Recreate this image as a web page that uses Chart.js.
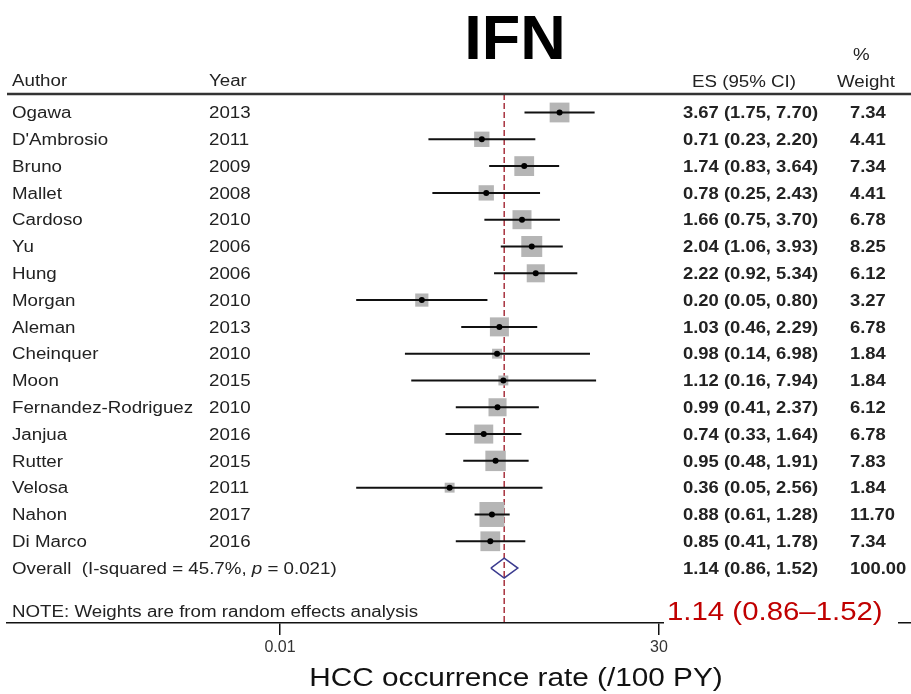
<!DOCTYPE html>
<html>
<head>
<meta charset="utf-8">
<script src="https://cdn.jsdelivr.net/npm/chart.js@4.4.0/dist/chart.umd.min.js"></script>
<style>
  body { margin: 0; background: #fff; }
  canvas { display: block; }
</style>
</head>
<body>
<canvas id="forest" width="911" height="694"></canvas>
<script>
const authors = ["Ogawa", "D'Ambrosio", "Bruno", "Mallet", "Cardoso", "Yu", "Hung", "Morgan", "Aleman",
    "Cheinquer", "Moon", "Fernandez-Rodriguez", "Janjua", "Rutter", "Velosa", "Nahon", "Di Marco"];
const years = [2013, 2011, 2009, 2008, 2010, 2006, 2006, 2010, 2013, 2010, 2015, 2010, 2016, 2015, 2011, 2017, 2016];
const estimates = [3.67, 0.71, 1.74, 0.78, 1.66, 2.04, 2.22, 0.20, 1.03, 0.98, 1.12, 0.99, 0.74, 0.95, 0.36, 0.88, 0.85];
const lowerCI = [1.75, 0.23, 0.83, 0.25, 0.75, 1.06, 0.92, 0.05, 0.46, 0.14, 0.16, 0.41, 0.33, 0.48, 0.05, 0.61, 0.41];
const upperCI = [7.70, 2.20, 3.64, 2.43, 3.70, 3.93, 5.34, 0.80, 2.29, 6.98, 7.94, 2.37, 1.64, 1.91, 2.56, 1.28, 1.78];
const weights = [7.34, 4.41, 7.34, 4.41, 6.78, 8.25, 6.12, 3.27, 6.78, 1.84, 1.84, 6.12, 6.78, 7.83, 1.84, 11.70, 7.34];
const overall = [1.14, 0.86, 1.52];   // estimate, lower, upper
const overallWeight = 100.00;
const iSquared = 45.7;
const pValue = "0.021";
const axisTicks = [0.01, 30];

// visible range of the axes
const xMin = 3.13e-5, xMax = 6150;
const yMin = -0.69, yMax = 19.05;
const overallRow = authors.length;

const FONT = "'Liberation Sans', Arial, sans-serif";
const TXT = "#222";
const SX = 1.17;   // source figure text is horizontally stretched

Chart.defaults.font.family = FONT;

function txt(ctx, s, x, y, opt = {}) {
    const sx = opt.sx ?? SX;
    ctx.save();
    ctx.font = opt.font || `16px ${FONT}`;
    ctx.fillStyle = opt.color || TXT;
    ctx.textBaseline = "alphabetic";
    ctx.textAlign = "left";
    const w = ctx.measureText(s).width * sx;
    let x0 = x;
    if (opt.align === "center") x0 = x - w / 2;
    if (opt.align === "right") x0 = x - w;
    ctx.translate(x0, y);
    ctx.scale(sx, 1);
    ctx.fillText(s, 0, 0);
    ctx.restore();
    return x0 + w;
}

const ciLines = authors.map((a, i) => ({
    data: [{x: lowerCI[i], y: i}, {x: upperCI[i], y: i}],
    showLine: true,
    borderColor: "#111",
    borderWidth: 2,
    pointRadius: 0
}));

const boxH = 0.37;   // half height of the pooled diamond in rows
const datasets = [
    {
        data: estimates.map((v, i) => ({x: v, y: i})),
        pointStyle: "circle",
        pointRadius: 3,
        backgroundColor: "#000",
        borderWidth: 0
    },
    ...ciLines,
    {
        data: estimates.map((v, i) => ({x: v, y: i})),
        pointStyle: "rect",
        pointRadius: weights.map(w => Math.sqrt(w) * 7.3 / Math.SQRT2),
        backgroundColor: "#b5b5b5",
        borderWidth: 0
    },
    {
        data: [
            {x: overall[1], y: overallRow},
            {x: overall[0], y: overallRow - boxH},
            {x: overall[2], y: overallRow},
            {x: overall[0], y: overallRow + boxH},
            {x: overall[1], y: overallRow}
        ],
        showLine: true,
        fill: false,
        borderColor: "#3b3b8f",
        borderWidth: 1.5,
        pointRadius: 0
    },
    {
        data: [{x: overall[0], y: yMin}, {x: overall[0], y: yMax}],
        showLine: true,
        borderColor: "#a8323e",
        borderWidth: 1.5,
        borderDash: [6, 3],
        pointRadius: 0
    }
];

const tablePlugin = {
    id: "forestTable",
    afterDraw(chart) {
        const ctx = chart.ctx;
        const ys = chart.scales.y;
        const area = chart.chartArea;
        const bold = `bold 16px ${FONT}`;

        // header rule
        ctx.save();
        ctx.strokeStyle = "#333";
        ctx.lineWidth = 2.5;
        ctx.beginPath();
        ctx.moveTo(area.left, area.top);
        ctx.lineTo(area.right, area.top);
        ctx.stroke();
        ctx.restore();

        // titles
        txt(ctx, "IFN", 515, 59, {font: `bold 63px ${FONT}`, color: "#000", sx: 1, align: "center"});
        txt(ctx, "HCC occurrence rate (/100 PY)", 516, 686, {font: `25px ${FONT}`, color: "#111", sx: 1.19, align: "center"});

        // column headers
        const hy = area.top - 8;
        txt(ctx, "Author", 12, hy);
        txt(ctx, "Year", 209, hy);
        txt(ctx, "ES (95% CI)", 692, hy + 1);
        txt(ctx, "%", 853, hy - 26);
        txt(ctx, "Weight", 837, hy + 1);

        const fmt = (e, l, u) => `${e.toFixed(2)} (${l.toFixed(2)}, ${u.toFixed(2)})`;
        authors.forEach((a, i) => {
            const yb = ys.getPixelForValue(i) + 5.7;
            txt(ctx, a, 12, yb);
            txt(ctx, String(years[i]), 209, yb);
            txt(ctx, fmt(estimates[i], lowerCI[i], upperCI[i]), 683, yb, {font: bold, sx: 1.15});
            txt(ctx, weights[i].toFixed(2), 850, yb, {font: bold, sx: 1.15});
        });

        const oy = ys.getPixelForValue(overallRow) + 5.7;
        let x = txt(ctx, `Overall  (I-squared = ${iSquared}%, `, 12, oy);
        x = txt(ctx, "p", x, oy, {font: `italic 16px ${FONT}`});
        txt(ctx, ` = ${pValue})`, x, oy);
        txt(ctx, fmt(overall[0], overall[1], overall[2]), 683, oy, {font: bold, sx: 1.15});
        txt(ctx, overallWeight.toFixed(2), 850, oy, {font: bold, sx: 1.15});

        txt(ctx, "NOTE: Weights are from random effects analysis", 12, area.bottom - 6);

        // pooled estimate label over the axis line
        ctx.save();
        ctx.fillStyle = "#fff";
        ctx.fillRect(664, area.bottom - 28, 234, 36);
        ctx.restore();
        const label = `${overall[0].toFixed(2)} (${overall[1].toFixed(2)}\u2013${overall[2].toFixed(2)})`;
        txt(ctx, label, 667, area.bottom - 3, {font: `26px ${FONT}`, color: "#c00000", sx: 1.13});
    }
};

new Chart(document.getElementById("forest").getContext("2d"), {
    type: "scatter",
    data: {datasets},
    options: {
        responsive: false,
        animation: false,
        devicePixelRatio: 1,
        layout: {autoPadding: false, padding: {top: 94, left: 7, right: 0, bottom: 0}},
        plugins: {legend: {display: false}, tooltip: {enabled: false}},
        scales: {
            x: {
                type: "logarithmic",
                min: xMin,
                max: xMax,
                border: {color: "#111", width: 1.5},
                grid: {drawOnChartArea: false, drawTicks: true, tickLength: 12, color: "#111", lineWidth: 1.5},
                ticks: {
                    color: "#333",
                    font: {size: 16},
                    padding: 3,
                    autoSkip: false,
                    maxRotation: 0,
                    callback: v => String(v)
                },
                afterBuildTicks: s => { s.ticks = axisTicks.map(v => ({value: v})); },
                afterFit: s => { s.height = 71; s.paddingLeft = 0; s.paddingRight = 0; }
            },
            y: {type: "linear", reverse: true, min: yMin, max: yMax, display: false}
        }
    },
    plugins: [tablePlugin]
});
</script>
</body>
</html>
